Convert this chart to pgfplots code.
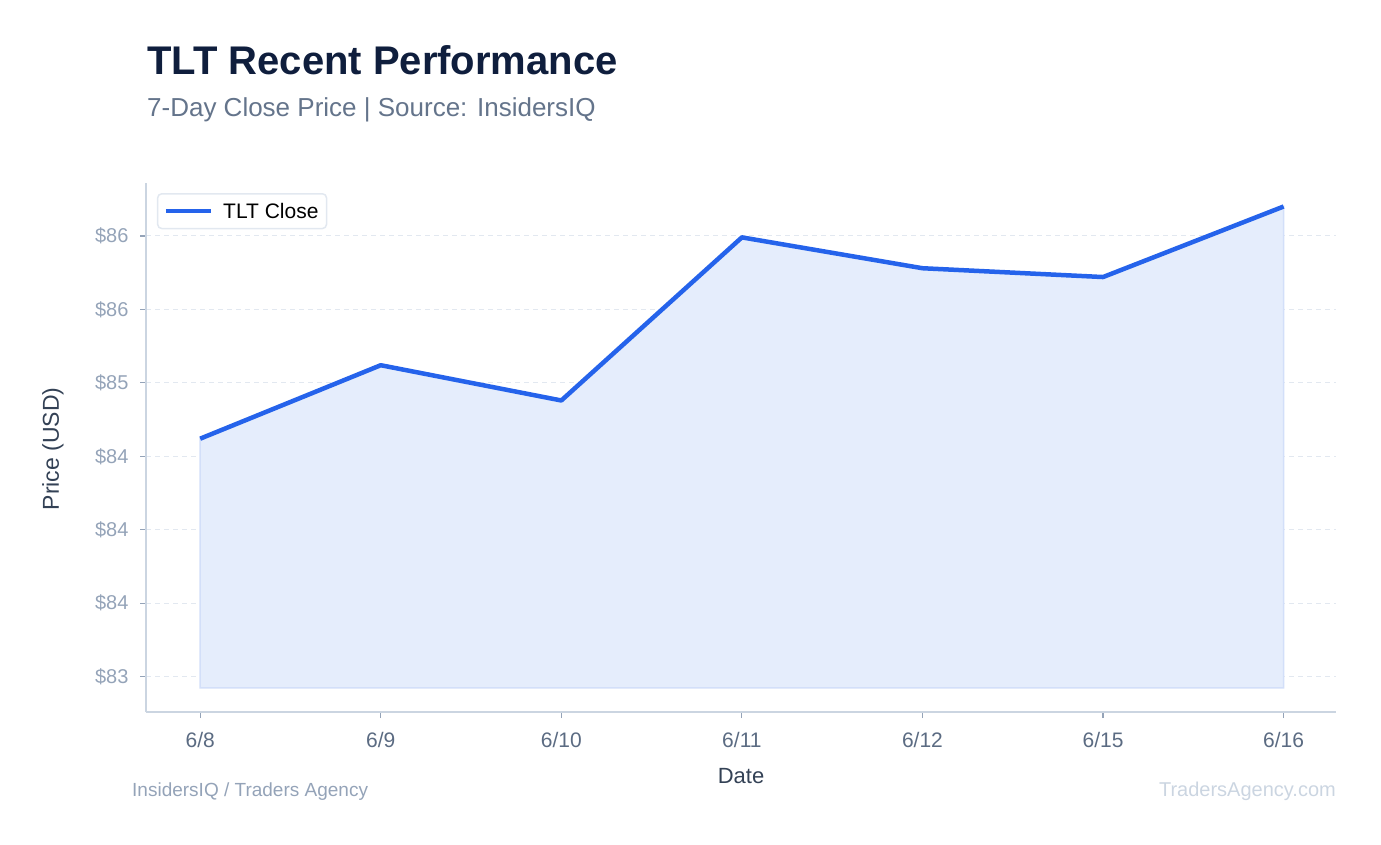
\documentclass[border=0pt]{standalone}
\usepackage{pgfplots}
\pgfplotsset{compat=1.18}
\usepackage{fontspec}
\setmainfont{Liberation Sans}

\definecolor{tltblue}{HTML}{2563EB}
\definecolor{tltfill}{HTML}{E5EDFC}
\definecolor{tltedge}{HTML}{D3DFF9}
\definecolor{titlecol}{HTML}{0F1E3D}
\definecolor{subcol}{HTML}{64748B}
\definecolor{tickcol}{HTML}{94A3B8}
\definecolor{xtickcol}{HTML}{5B6B82}
\definecolor{labelcol}{HTML}{334155}
\definecolor{axiscol}{HTML}{CBD5E1}
\definecolor{gridcol}{HTML}{E2E8F0}
\definecolor{footcol}{HTML}{CBD5E1}

\begin{document}
\begin{tikzpicture}
    \path[use as bounding box] (0pt,0pt) rectangle (1381pt,-845pt);

    \node[anchor=base west, text=titlecol, inner sep=0pt]
        at (147pt,-75pt) {\fontsize{40}{46}\selectfont\bfseries TLT Recent Performance};
    \node[anchor=base west, text=subcol, inner sep=0pt]
        at (147pt,-117pt) {\fontsize{26}{30}\selectfont 7-Day Close Price | Source: InsidersIQ};

    \begin{axis}[
        at={(146pt,-712pt)},
        anchor=south west,
        scale only axis,
        width=1190pt,
        height=529pt,
        xmin=-0.3, xmax=6.29,
        ymin=82.76, ymax=86.36,
        axis x line=bottom,
        axis y line=left,
        axis line style={-, draw=axiscol, line width=2pt},
        xtick={0,1,2,3,4,5,6},
        xticklabels={6/8,6/9,6/10,6/11,6/12,6/15,6/16},
        ytick={83,83.5,84,84.5,85,85.5,86},
        yticklabels={\$83,\$84,\$84,\$84,\$85,\$86,\$86},
        tick align=outside,
        major tick length=6pt,
        tick style={draw=tickcol, line width=1.2pt},
        x tick label style={text=xtickcol, font=\fontsize{21}{24}\selectfont, yshift=-11pt},
        y tick label style={text=tickcol, font=\fontsize{20}{24}\selectfont, xshift=-8pt},
        ymajorgrids,
        major grid style={draw=gridcol, line width=1pt, dash pattern=on 5pt off 4pt},
        /pgf/number format/assume math mode=true,
        legend style={
            at={(0.0092,0.981)}, anchor=north west,
            draw=gridcol, line width=1.5pt, rounded corners=4pt,
            font=\fontsize{21}{25}\selectfont, text=black,
            inner xsep=6pt, inner ysep=7pt,
        },
        legend cell align=left,
        legend image code/.code={
            \draw[line width=4.5pt] (0pt,0pt) -- (45pt,0pt);
        },
    ]
        % shaded area under the close price
        \addplot[fill=tltfill, draw=tltedge, line width=1.5pt, forget plot] coordinates {
            (0, 82.925)
            (0, 84.62)
            (1, 85.12)
            (2, 84.88)
            (3, 85.99)
            (4, 85.78)
            (5, 85.72)
            (6, 86.20)
            (6, 82.925)
        } -- cycle;
        \addplot[draw=tltblue, line width=4.5pt, line join=round] coordinates {
            (0, 84.62)
            (1, 85.12)
            (2, 84.88)
            (3, 85.99)
            (4, 85.78)
            (5, 85.72)
            (6, 86.20)
        };
        \addlegendentry{\hspace{8pt}TLT Close}
    \end{axis}

    \node[rotate=90, text=labelcol, inner sep=0pt]
        at (53pt,-449pt) {\fontsize{23}{27}\selectfont Price (USD)};
    \node[text=labelcol, inner sep=0pt]
        at (741pt,-776pt) {\fontsize{22}{26}\selectfont Date};
    \node[anchor=base west, text=tickcol, inner sep=0pt]
        at (132pt,-796pt) {\fontsize{19}{22}\selectfont InsidersIQ / Traders Agency};
    \node[anchor=base east, text=footcol, inner sep=0pt]
        at (1336pt,-796pt) {\fontsize{20}{23}\selectfont TradersAgency.com};
\end{tikzpicture}
\end{document}
